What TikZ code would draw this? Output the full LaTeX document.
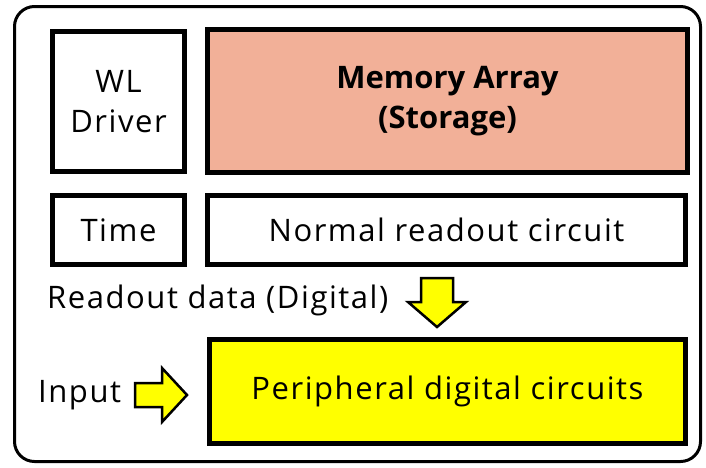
\documentclass[tikz,border=0pt]{standalone}
\usepackage{fontspec}
\setmainfont{Open Sans}[LetterSpace=5]
\newfontfamily\titlefont{Open Sans}
\definecolor{memfill}{RGB}{242,176,152}
\definecolor{hiyellow}{RGB}{255,255,0}
\tikzset{
  blk/.style={draw=black, line width=5pt, inner sep=0pt, align=center,
    font=\fontsize{31}{40}\selectfont},
  lbl/.style={inner sep=0pt, font=\fontsize{31}{40}\selectfont},
  blockarrow/.style={draw=black, line width=2.5pt, fill=hiyellow, line join=miter},
  frame/.style={draw=black, line width=3pt, rounded corners=20pt}
}
\begin{document}
\begin{tikzpicture}[x=1pt,y=-1pt]
  \useasboundingbox (0,0) rectangle (706,467);
  % outer frame
  \draw[frame] (14.5,6.5) rectangle (700.5,461.5);

  % top row
  \node[blk, fill=white, minimum width=132pt, minimum height=140pt] (wl) at (118.5,101.5) {WL\\Driver};
  \node[blk, fill=memfill, minimum width=480pt, minimum height=143pt,
        font=\titlefont\fontsize{31}{40}\selectfont\bfseries] (mem) at (447.5,101) {Memory Array\\(Storage)};

  % second row
  \node[blk, fill=white, minimum width=132pt, minimum height=69pt] (time) at (118.5,230) {Time};
  \node[blk, fill=white, minimum width=478pt, minimum height=69pt] (readout) at (446.5,230) {Normal readout circuit};

  % readout data label and down arrow
  \node[lbl, anchor=west] (rdata) at (47,300) {Readout data (Digital)};
  \draw[blockarrow] (421,278) -- (453,278) -- (453,302) -- (466,302) -- (437,327)
        -- (408,302) -- (421,302) -- cycle;

  % peripheral block with input
  \node[blk, fill=hiyellow, minimum width=476pt, minimum height=104pt] (periph) at (447.5,391.5) {Peripheral digital circuits};
  \node[lbl, anchor=west] (input) at (38,395) {Input};
  \draw[blockarrow] (135,383) -- (162,383) -- (162,368) -- (187,395) -- (162,422)
        -- (162,407) -- (135,407) -- cycle;
\end{tikzpicture}
\end{document}
